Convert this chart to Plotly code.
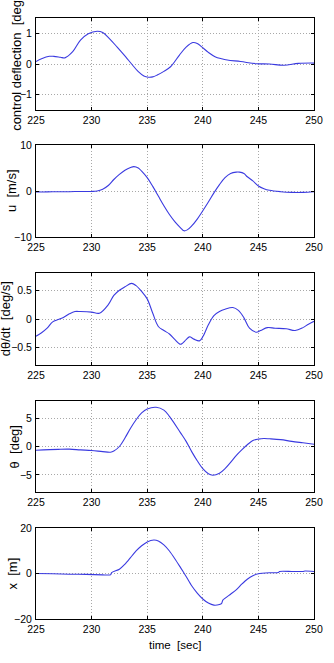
import plotly.graph_objects as go
from plotly.subplots import make_subplots

# ---------------- data ----------------
t_cd = [225, 225.5, 226.2, 226.6, 227.2, 227.6, 228.3, 229.0, 229.7, 230.5, 231.0, 231.6,
        232.3, 233.05, 233.6, 234.2, 234.7, 235.1, 235.5, 235.9, 236.5, 237.1, 237.9, 238.5,
        239.1, 239.5, 239.9, 240.5, 241.1, 241.7, 242.2, 243.4, 244.8, 246.0, 247.3, 248.6, 250]
control_deflection = [0.08, 0.17, 0.25, 0.25, 0.22, 0.20, 0.40, 0.78, 0.99, 1.07, 1.03, 0.83,
                      0.55, 0.24, 0.0, -0.25, -0.39, -0.43, -0.42, -0.36, -0.24, -0.09, 0.29, 0.55,
                      0.70, 0.67, 0.56, 0.38, 0.24, 0.17, 0.13, 0.08, 0.01, 0.0, -0.04, 0.02, 0.03]

t_u = [225, 226, 227, 228, 229, 230, 230.5, 231, 231.5, 232, 232.5, 233, 233.5, 233.8, 234.2,
       234.5, 235, 235.5, 236, 236.5, 237, 237.5, 238, 238.3, 238.6, 239, 239.5, 240, 240.5,
       241, 241.5, 242, 242.5, 243, 243.3, 243.7, 244, 244.5, 245, 245.5, 246, 247, 248, 249, 250]
u_vel = [-0.2, -0.2, -0.15, -0.15, -0.1, -0.1, 0.0, 0.4, 1.2, 2.5, 3.6, 4.5, 5.1, 5.3, 5.0,
         4.3, 2.9, 1.0, -1.1, -3.2, -5.1, -6.7, -8.0, -8.65, -8.45, -7.6, -6.1, -4.3, -2.4,
         -0.4, 1.4, 2.9, 3.8, 4.1, 4.1, 3.8, 3.1, 2.2, 1.1, 0.5, 0.15, -0.15, -0.3, -0.3, -0.15]

t_q = [225, 225.5, 226, 226.5, 227, 227.5, 228, 228.5, 229, 230, 230.7, 231.5, 232, 232.5, 233,
       233.6, 234, 234.5, 235, 235.5, 236, 236.5, 237, 237.5, 238, 238.5, 238.8, 239.2, 239.7,
       240, 240.5, 241, 241.5, 242, 242.7, 243.2, 243.7, 244.2, 244.8, 245.2, 245.8, 246.5,
       247.5, 248.3, 249, 249.5, 250]
pitch_rate = [-0.30, -0.24, -0.16, -0.05, -0.01, 0.03, 0.09, 0.13, 0.13, 0.12, 0.10, 0.25, 0.41,
              0.50, 0.56, 0.62, 0.58, 0.48, 0.35, 0.10, -0.13, -0.20, -0.26, -0.36, -0.44, -0.36,
              -0.31, -0.35, -0.38, -0.31, -0.10, 0.06, 0.13, 0.17, 0.20, 0.15, 0.02, -0.16, -0.23,
              -0.20, -0.15, -0.16, -0.17, -0.20, -0.15, -0.09, -0.04]

t_th = [225, 227, 228, 229, 230, 231, 231.7, 232, 232.5, 233, 233.5, 234, 234.5, 235, 235.8,
        236.5, 237, 238, 238.5, 239, 239.5, 240, 240.5, 240.9, 241.5, 242, 242.5, 243, 243.5,
        244, 244.5, 245, 245.5, 246, 247, 248, 249, 250]
theta = [-0.65, -0.5, -0.47, -0.6, -0.7, -0.9, -1.0, -0.8, 0.0, 1.5, 3.2, 4.7, 5.9, 6.6, 6.9,
         6.4, 5.3, 2.4, 0.9, -0.9, -2.5, -3.9, -4.8, -5.05, -4.7, -3.9, -2.8, -1.6, -0.6,
         0.3, 1.05, 1.3, 1.4, 1.35, 1.2, 0.9, 0.65, 0.4]

t_x = [225, 226.5, 228, 229.5, 231, 231.7, 231.8, 232.5, 233, 233.5, 234, 234.5, 235, 235.6,
       236, 236.5, 237, 237.5, 238, 238.5, 239, 239.5, 240, 240.5, 241, 241.5, 241.7, 241.8,
       242.5, 243, 243.5, 244, 244.5, 245, 246, 246.8, 246.9, 248, 249, 249.2, 250]
x_pos = [0.0, -0.1, -0.3, -0.4, -0.6, -0.6, 0.4, 1.9, 4.1, 7.0, 9.9, 12.2, 13.9, 14.7,
         14.3, 12.6, 9.9, 6.4, 2.6, -1.3, -5.4, -8.6, -11.2, -13.0, -13.9, -13.6, -13.1, -11.7,
         -9.1, -7.2, -4.7, -2.5, -1.0, -0.1, 0.3, 0.4, 0.9, 0.9, 0.9, 1.1, 0.9]

y_titles = ["control deflection  [deg]", "u  [m/s]", "dθ/dt  [deg/s]", "θ  [deg]", "x  [m]"]
x_title = "time  [sec]"
y_ranges = [[-1.5, 1.5], [-10, 10], [-0.8, 0.8], [-8, 8], [-20, 20]]
y_ticks = [[-1, 0, 1], [-10, 0, 10], [-0.5, 0, 0.5], [-5, 0, 5], [-20, 0, 20]]
x_ticks = [225, 230, 235, 240, 245, 250]

series = [(t_cd, control_deflection), (t_u, u_vel), (t_q, pitch_rate),
          (t_th, theta), (t_x, x_pos)]

# ---------------- layout geometry (pixels) ----------------
W, H = 334, 663
L_PX, R_PX = 33, 323
TOP, BOT = 18, 619
boxes = [(18, 110), (145, 237), (273, 365), (401, 492), (528, 619)]
title_x_px = [12, 8, 1, 11, 9]


def py(px):
    return (BOT - px) / (BOT - TOP)


def pxx(px):
    return (px - L_PX) / (R_PX - L_PX)


FONT = "Liberation Sans, Arial, Helvetica, sans-serif"
LINE = "#3a3ae0"

fig = make_subplots(rows=5, cols=1)

for i, (tt, vv) in enumerate(series):
    smooth = 0.6 if i == 4 else 1.0
    fig.add_trace(go.Scatter(x=tt, y=vv, mode="lines",
                             line=dict(color=LINE, width=1.1, shape="spline", smoothing=smooth),
                             showlegend=False, hoverinfo="skip"),
                  row=i + 1, col=1)

axis_common = dict(showline=True, linecolor="black", linewidth=1, mirror="ticks",
                   ticks="inside", ticklen=3, tickcolor="black",
                   showgrid=True, gridcolor="#a8a8a8", griddash="1px,2px", gridwidth=1,
                   zeroline=False, tickfont=dict(family=FONT, size=10.5, color="black"))

for i in range(5):
    top, bot = boxes[i]
    fig.update_yaxes(row=i + 1, col=1, range=y_ranges[i], tickvals=y_ticks[i],
                     domain=[py(bot), py(top)], ticklabelstandoff=1, **axis_common)
    fig.update_xaxes(row=i + 1, col=1, range=[225, 250], tickvals=x_ticks,
                     domain=[0, 1], **axis_common)
    fig.add_annotation(text=y_titles[i], textangle=-90, showarrow=False,
                       xref="paper", yref="paper", x=pxx(title_x_px[i]),
                       y=py((top + bot) / 2), xanchor="center", yanchor="middle",
                       font=dict(family=FONT, size=13, color="black"))

fig.add_annotation(text=x_title, showarrow=False, xref="paper", yref="paper",
                   x=pxx(178), y=py(645), xanchor="center", yanchor="middle",
                   font=dict(family=FONT, size=11.5, color="black"))

fig.update_layout(width=W, height=H, margin=dict(l=L_PX, r=W - R_PX, t=TOP, b=H - BOT),
                  paper_bgcolor="white", plot_bgcolor="white",
                  font=dict(family=FONT, color="black"))

fig.write_html("out.html")
